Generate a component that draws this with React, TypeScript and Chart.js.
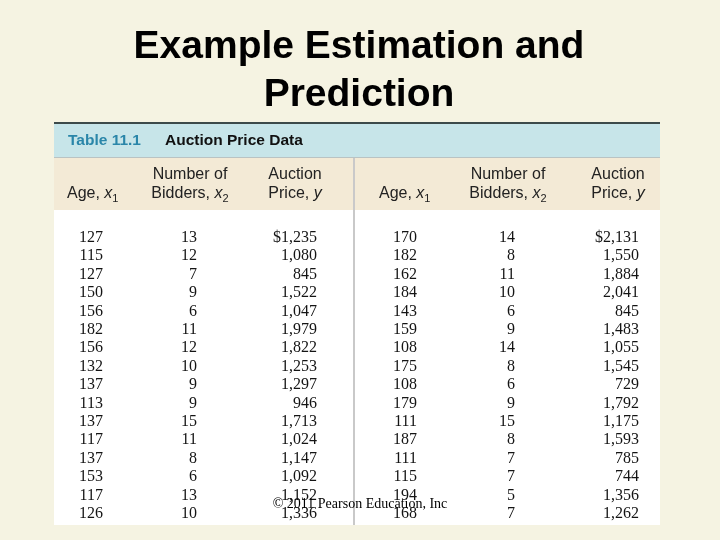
import React, { useEffect, useRef } from "react";
import { Chart, registerables } from "chart.js";

Chart.register(...registerables);

// ---------- content ----------
const TITLE_LINES = ["Example Estimation and", "Prediction"];
const TABLE_LABEL = "Table 11.1";
const TABLE_CAPTION = "Auction Price Data";
const COPYRIGHT = "© 2011 Pearson Education, Inc";

// ---------- data ----------
const ageLeft = [127, 115, 127, 150, 156, 182, 156, 132, 137, 113, 137, 117, 137, 153, 117, 126];
const biddersLeft = [13, 12, 7, 9, 6, 11, 12, 10, 9, 9, 15, 11, 8, 6, 13, 10];
const priceLeft = [1235, 1080, 845, 1522, 1047, 1979, 1822, 1253, 1297, 946, 1713, 1024, 1147, 1092, 1152, 1336];
const ageRight = [170, 182, 162, 184, 143, 159, 108, 175, 108, 179, 111, 187, 111, 115, 194, 168];
const biddersRight = [14, 8, 11, 10, 6, 9, 14, 8, 6, 9, 15, 8, 7, 7, 5, 7];
const priceRight = [2131, 1550, 1884, 2041, 845, 1483, 1055, 1545, 729, 1792, 1175, 1593, 785, 744, 1356, 1262];

const COLUMNS = [
  { key: "age1", values: ageLeft, money: false },
  { key: "bid1", values: biddersLeft, money: false },
  { key: "price1", values: priceLeft, money: true },
  { key: "age2", values: ageRight, money: false },
  { key: "bid2", values: biddersRight, money: false },
  { key: "price2", values: priceRight, money: true },
];

// ---------- layout (not data) ----------
const W = 720;
const H = 540;
const TABLE = { left: 54, right: 660, top: 122, bottom: 525 };
const COLUMN_RIGHT_EDGES = [49, 143, 263, 363, 461, 585]; // x-scale units from table left
const BG = "#f5f3e2";

type Part = { t: string; i?: boolean; sub?: boolean };
type Header = { parts: Part[]; x: number; y: number; align: "left" | "center" };

const HEADERS: Header[] = [
  { parts: [{ t: "Age, " }, { t: "x", i: true }, { t: "1", sub: true }], x: 67, y: 198, align: "left" },
  { parts: [{ t: "Number of" }], x: 190, y: 179, align: "center" },
  { parts: [{ t: "Bidders, " }, { t: "x", i: true }, { t: "2", sub: true }], x: 190, y: 198, align: "center" },
  { parts: [{ t: "Auction" }], x: 295, y: 179, align: "center" },
  { parts: [{ t: "Price, " }, { t: "y", i: true }], x: 295, y: 198, align: "center" },
  { parts: [{ t: "Age, " }, { t: "x", i: true }, { t: "1", sub: true }], x: 379, y: 198, align: "left" },
  { parts: [{ t: "Number of" }], x: 508, y: 179, align: "center" },
  { parts: [{ t: "Bidders, " }, { t: "x", i: true }, { t: "2", sub: true }], x: 508, y: 198, align: "center" },
  { parts: [{ t: "Auction" }], x: 618, y: 179, align: "center" },
  { parts: [{ t: "Price, " }, { t: "y", i: true }], x: 618, y: 198, align: "center" },
];

const fmt = (v: number, money: boolean, first: boolean) => {
  const s = v.toLocaleString("en-US");
  return money && first ? "$" + s : s;
};

const partFont = (p: Part) =>
  p.sub ? "11px 'Liberation Sans', Arial, sans-serif" : (p.i ? "italic " : "") + "16px 'Liberation Sans', Arial, sans-serif";

function drawRich(ctx: CanvasRenderingContext2D, h: Header) {
  let total = 0;
  for (const p of h.parts) {
    ctx.font = partFont(p);
    total += ctx.measureText(p.t).width;
  }
  let x = h.align === "center" ? h.x - total / 2 : h.x;
  ctx.textAlign = "left";
  ctx.textBaseline = "alphabetic";
  for (const p of h.parts) {
    ctx.font = partFont(p);
    ctx.fillText(p.t, x, h.y + (p.sub ? 4 : 0));
    x += ctx.measureText(p.t).width;
  }
}

const tablePlugin = {
  id: "tablePlugin",
  beforeDraw(chart: any) {
    const ctx: CanvasRenderingContext2D = chart.ctx;
    ctx.save();
    ctx.fillStyle = BG;
    ctx.fillRect(0, 0, W, H);

    // title
    ctx.fillStyle = "#000";
    ctx.font = "bold 39px 'Liberation Sans', Arial, sans-serif";
    ctx.textAlign = "center";
    ctx.textBaseline = "alphabetic";
    ctx.fillText(TITLE_LINES[0], 359, 58);
    ctx.fillText(TITLE_LINES[1], 359, 106);

    const { left, right, top, bottom } = chart.chartArea;
    // body
    ctx.fillStyle = "#ffffff";
    ctx.fillRect(left, top, right - left, bottom - top);
    // blue caption band
    ctx.fillStyle = "#c7e5e9";
    ctx.fillRect(left, top + 2, right - left, 35);
    // tan header band
    ctx.fillStyle = "#f3ead6";
    ctx.fillRect(left, 157, right - left, 53);
    // top dark rule
    ctx.fillStyle = "#3c4a4a";
    ctx.fillRect(left, top, right - left, 2);
    // thin rule between bands
    ctx.fillStyle = "#b9c3c3";
    ctx.fillRect(left, 157, right - left, 1);
    // vertical divider
    ctx.fillStyle = "#c9c9c9";
    ctx.fillRect(353, 158, 2, bottom - 158);

    // caption
    ctx.textAlign = "left";
    ctx.font = "bold 15.5px 'Liberation Sans', Arial, sans-serif";
    ctx.fillStyle = "#2a86a9";
    ctx.fillText(TABLE_LABEL, 68, 145);
    ctx.fillStyle = "#111";
    ctx.fillText(TABLE_CAPTION, 165, 145);

    // column headers
    ctx.fillStyle = "#222";
    HEADERS.forEach((h) => drawRich(ctx, h));
    ctx.restore();
  },
  afterDatasetsDraw(chart: any) {
    const ctx: CanvasRenderingContext2D = chart.ctx;
    ctx.save();
    ctx.font = "16px 'Liberation Serif', 'Times New Roman', serif";
    ctx.fillStyle = "#141414";
    ctx.textAlign = "right";
    ctx.textBaseline = "alphabetic";
    chart.data.datasets.forEach((ds: any, di: number) => {
      const meta = chart.getDatasetMeta(di);
      meta.data.forEach((el: any, i: number) => {
        ctx.fillText(fmt(COLUMNS[di].values[i], COLUMNS[di].money, i === 0), el.x, el.y);
      });
    });
    ctx.restore();
  },
  afterDraw(chart: any) {
    const ctx: CanvasRenderingContext2D = chart.ctx;
    ctx.save();
    ctx.font = "14px 'Liberation Serif', 'Times New Roman', serif";
    ctx.fillStyle = "#000";
    ctx.textAlign = "center";
    ctx.textBaseline = "alphabetic";
    ctx.fillText(COPYRIGHT, 360, 508);
    ctx.restore();
  },
};

export default function App() {
  const ref = useRef<HTMLCanvasElement | null>(null);
  useEffect(() => {
    if (!ref.current) return;
    const chart = new Chart(ref.current, {
      type: "scatter",
      data: {
        datasets: COLUMNS.map((c, ci) => ({
          label: c.key,
          data: c.values.map((_, row) => ({ x: COLUMN_RIGHT_EDGES[ci], y: row })),
          pointRadius: 0,
          pointHoverRadius: 0,
          showLine: false,
        })),
      },
      options: {
        animation: false,
        responsive: false,
        maintainAspectRatio: false,
        devicePixelRatio: 1,
        events: [],
        layout: {
          padding: { left: TABLE.left, right: W - TABLE.right, top: TABLE.top, bottom: H - TABLE.bottom },
        },
        scales: {
          x: { type: "linear", display: false, min: 0, max: TABLE.right - TABLE.left },
          y: { type: "linear", display: false, min: -6.522, max: 15.38, reverse: true },
        },
        plugins: { legend: { display: false }, tooltip: { enabled: false }, title: { display: false } },
      },
      plugins: [tablePlugin],
    } as any);
    return () => chart.destroy();
  }, []);
  return (
    <div style={{ position: "absolute", left: 0, top: 0, width: W, height: H, background: BG }}>
      <canvas ref={ref} width={W} height={H} style={{ display: "block", width: W, height: H }} />
    </div>
  );
}
